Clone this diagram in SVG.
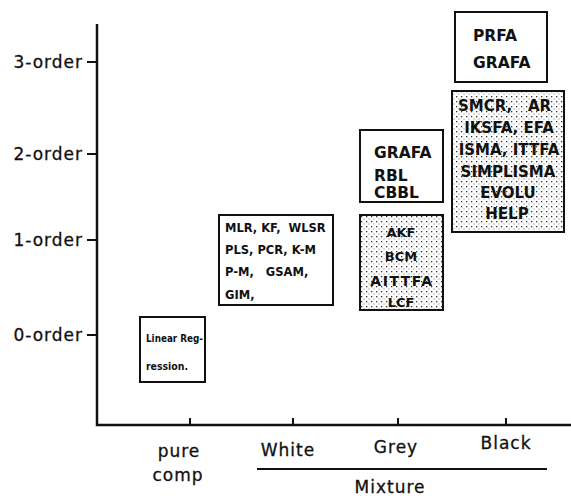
<svg xmlns="http://www.w3.org/2000/svg" width="571" height="498" viewBox="0 0 571 498">
<defs>
<pattern id="dots" width="5" height="5" patternUnits="userSpaceOnUse">
<rect width="5" height="5" fill="#fff"/>
<rect x="1" y="1" width="1.3" height="1.3" fill="#333"/>
<rect x="3.5" y="3.5" width="1" height="1" fill="#777"/>
</pattern>
</defs>
<style>
.ax{stroke:#111;stroke-width:2.5;fill:none}
.tk{stroke:#111;stroke-width:2;fill:none}
.lbl{font-family:"DejaVu Sans","Liberation Sans",sans-serif;font-size:17px;letter-spacing:1px;fill:#111;stroke:#111;stroke-width:0.3}
.box{fill:#fff;stroke:#111;stroke-width:2}
.dbox{fill:url(#dots);stroke:#111;stroke-width:2}
.t{font-family:"DejaVu Sans","Liberation Sans",sans-serif;font-weight:bold;fill:#111;white-space:pre}
.s{text-anchor:start}
.m{text-anchor:middle}
.e{text-anchor:end}
.big{font-size:15.5px}
.sm{font-size:11.5px}
.md{font-size:13px}
.bl{font-size:15px}
.xs{font-size:10px}
</style>
<rect width="571" height="498" fill="#fff"/>
<g id="axes">
<path class="ax" d="M97,24 V425 H571"/>
<path class="tk" d="M87,62 H97 M87,154 H97 M87,240 H97 M87,335 H97"/>
<path class="tk" d="M190,418 V425 M293,418 V425 M398,418 V425 M506,418 V425"/>
<path class="tk" d="M257,469 H547" stroke-width="1.5"/>
<text class="lbl e" x="83" y="68">3-order</text>
<text class="lbl e" x="83" y="160">2-order</text>
<text class="lbl e" x="83" y="246">1-order</text>
<text class="lbl e" x="83" y="341">0-order</text>
<text class="lbl m" x="179" y="457">pure</text>
<text class="lbl m" x="178" y="481">comp</text>
<text class="lbl m" x="288" y="456">White</text>
<text class="lbl m" x="396" y="453">Grey</text>
<text class="lbl m" x="506" y="449">Black</text>
<text class="lbl m" x="390" y="493">Mixture</text>
</g>
<g id="linreg">
<rect class="box" x="140" y="317" width="65" height="65"/>
<text class="t xs s" x="146" y="342" textLength="57" lengthAdjust="spacingAndGlyphs">Linear Reg-</text>
<text class="t xs s" x="146" y="370" textLength="42" lengthAdjust="spacingAndGlyphs">ression.</text>
</g>
<g id="white">
<rect class="box" x="219" y="215" width="114" height="90"/>
<text class="t sm s" x="225" y="232">MLR, KF,  WLSR</text>
<text class="t sm s" x="225" y="254">PLS, PCR, K-M</text>
<text class="t sm s" x="225" y="276">P-M,   GSAM,</text>
<text class="t sm s" x="225" y="299">GIM,</text>
</g>
<g id="grey2">
<rect class="box" x="360" y="130" width="83" height="72"/>
<text class="t big s" x="374" y="158">GRAFA</text>
<text class="t big s" x="374" y="181">RBL</text>
<text class="t big s" x="374" y="198">CBBL</text>
</g>
<g id="grey1">
<rect class="dbox" x="360" y="215" width="83" height="95"/>
<text class="t md m" x="401" y="237">AKF</text>
<text class="t md m" x="401" y="261">BCM</text>
<text class="t m" x="402" y="286" style="font-size:14px;letter-spacing:1.5px">AITTFA</text>
<text class="t md m" x="401" y="307">LCF</text>
</g>
<g id="black3">
<rect class="box" x="455" y="12" width="92" height="70"/>
<text class="t big s" x="473" y="41">PRFA</text>
<text class="t big s" x="473" y="68">GRAFA</text>
</g>
<g id="black2">
<rect class="dbox" x="452" y="91" width="112" height="141"/>
<text class="t bl s" x="458" y="111">SMCR,   AR</text>
<text class="t bl m" x="509" y="133">IKSFA, EFA</text>
<text class="t bl m" x="509" y="155">ISMA, ITTFA</text>
<text class="t bl m" x="508" y="177">SIMPLISMA</text>
<text class="t bl m" x="508" y="198">EVOLU</text>
<text class="t bl m" x="507" y="219">HELP</text>
</g>
</svg>
